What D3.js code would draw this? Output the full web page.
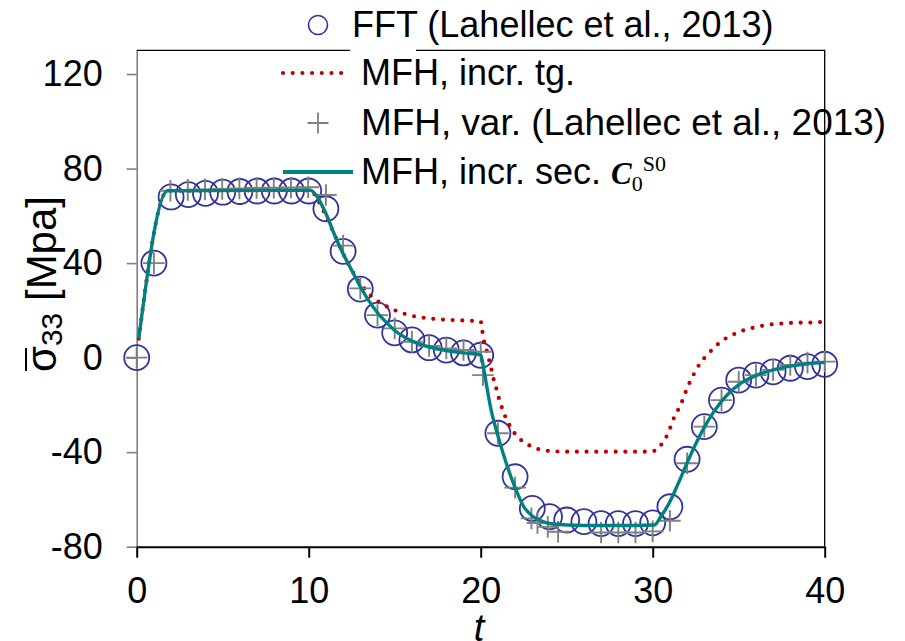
<!DOCTYPE html>
<html>
<head>
<meta charset="utf-8">
<script src="https://cdn.jsdelivr.net/npm/d3@7"></script>
<style>
  body { margin: 0; background: #fff; }
  svg { display: block; }
  text { font-family: "Liberation Sans", Arial, sans-serif; }
</style>
</head>
<body>
<div id="chart"></div>
<script>
const width = 905, height = 641;

const xTicks = [0, 10, 20, 30, 40];
const yTicks = [-80, -40, 0, 40, 80, 120];

// FFT (Lahellec et al., 2013) - circles
const fftT = [0,1,2,3,4,5,6,7,8,9,10,11,12,13,14,15,16,17,18,19,20,
              21,22,23,24,25,26,27,28,29,30,31,32,33,34,35,36,37,38,39,40];
const fftV = [0,40,68,69,69.5,70,70.3,70.5,70.5,70.5,70.5,63,45,29,18,10.5,7.5,4.2,3.2,2,1,
              -32,-50.4,-63.8,-67.3,-68.7,-69.4,-70.2,-70.2,-70.2,-69.9,-63.1,-43,-29.2,-18,-9.5,-7.4,-6,-4.5,-3.8,-2.8];

// MFH, incr. tg. - red dotted
const tgT = [0.12,1.8,10.1,10.5,11,11.5,12,12.5,13,13.5,14,14.5,15,15.5,16,17,18,19,20,
             20.1,20.2,20.37,20.5,20.63,20.76,20.92,21.07,21.25,21.45,21.7,22,22.4,22.9,23.4,24,25,
             29.7,30.25,30.6,30.9,31.1,31.3,31.6,31.8,32,32.25,32.5,32.8,33.2,33.6,34,34.5,35.06,
             35.6,36.2,36.7,37.3,37.9,38.4,39,39.6,40];
const tgV = [8,70.6,70.8,67,60,52,44,37,31.5,27,24,21.8,20.1,18.7,17.7,16.6,16,15.7,15.3,
             11,6.7,2.5,-1.3,-5.2,-9.4,-13.4,-17.5,-21.5,-25.3,-28.9,-32.3,-35.2,-37.4,-38.8,-39.5,-39.8,
             -39.8,-39.1,-35.6,-32,-28.1,-24.3,-20.5,-16.7,-13,-9,-5.5,-2,1.4,4.4,7,9.1,11,
             12.2,13.2,13.9,14.3,14.6,14.8,14.8,15,15.1];

// MFH, var. (Lahellec et al., 2013) - gray crosses
const varT = [0,1,1.96,2.97,3.97,4.97,5.97,6.97,7.97,8.97,9.97,11,12,13,14,15,16,17,18,19,20,
              20.13,21,22,22.95,23.3,23.9,24.5,27,28,29,30,31,32,33,34,35,36,37,38,39,40];
const varV = [0,40,70.6,71,71.2,71.4,71.6,71.8,71.9,72,72.1,68.8,47.4,29.3,18,12.4,6.7,4.9,3.9,3.2,2.5,
              -7.4,-32,-55,-68,-70,-71.6,-73.7,-74,-74,-74,-73.5,-69,-44.7,-29.2,-18,-10.2,-7.4,-5.2,-3.1,-2.1,-1.7];

// MFH, incr. sec. C0S0 - teal line
const secT = [0.12,1.8,10.1,10.5,11,11.5,12,12.5,13,13.5,14,14.5,15,15.5,16,17,18,19,20,
              20.05,20.3,20.6,21,21.5,22,22.5,23,23.5,24,25,26,29,30.1,30.5,31,31.5,32,32.5,
              33,33.5,34,34.5,35,35.5,36,37,38,39,40];
const secV = [8,70.6,70.8,68,61,52,44,37,30,24,19,15,11.5,9,7,4.5,3,2,1.2,
              0,-10,-22,-33,-45,-55,-63,-67,-69,-70.2,-70.8,-71,-71,-70.8,-67,-61,-53,-44.5,-36.5,
              -29.5,-23.5,-18.5,-14.5,-11.5,-9.3,-7.6,-5.2,-3.6,-2.6,-2];

const fft = fftT.map((t, i) => ({t, v: fftV[i]}));
const tg = tgT.map((t, i) => ({t, v: tgV[i]}));
const vr = varT.map((t, i) => ({t, v: varV[i]}));
const sec = secT.map((t, i) => ({t, v: secV[i]}));

const blue = "#333399", red = "#c00000", gray = "#808080", teal = "#008080";

const svg = d3.select("#chart").append("svg")
    .attr("width", width)
    .attr("height", height);

const x = d3.scaleLinear().domain([0, 40]).range([136.7, 824.7]);
const y = d3.scaleLinear().domain([-80, 130]).range([546.7, 50.4]);

// frame top + right
svg.append("path")
    .attr("d", `M${x(0)},${y(130)}H${x(40)}V${y(-80)}`)
    .attr("fill", "none")
    .attr("stroke", "#000")
    .attr("stroke-width", 1.3);

// y axis (gray)
const yAxis = svg.append("g")
    .attr("transform", `translate(${x(0)},0)`)
    .call(d3.axisLeft(y).tickValues(yTicks).tickFormat(d => String(d))
        .tickSize(10).tickSizeOuter(0).tickPadding(24));
yAxis.select(".domain").attr("stroke", gray).attr("stroke-width", 1.6);
yAxis.selectAll(".tick line").attr("stroke", gray).attr("stroke-width", 1.6);
yAxis.selectAll(".tick text")
    .attr("font-size", 36)
    .attr("font-family", "Liberation Sans, Arial, sans-serif")
    .attr("fill", "#000");

// x axis (black)
const xAxis = svg.append("g")
    .attr("transform", `translate(0,${y(-80)})`)
    .call(d3.axisBottom(x).tickValues(xTicks).tickFormat(d => String(d))
        .tickSize(11).tickSizeOuter(0).tickPadding(20));
xAxis.select(".domain").attr("stroke", "#000").attr("stroke-width", 2);
xAxis.selectAll(".tick line").attr("stroke", "#000").attr("stroke-width", 2);
xAxis.selectAll(".tick text")
    .attr("font-size", 36)
    .attr("font-family", "Liberation Sans, Arial, sans-serif")
    .attr("fill", "#000");

// series
const line = d3.line().x(d => x(d.t)).y(d => y(d.v)).curve(d3.curveMonotoneX);

svg.append("g").selectAll("circle")
    .data(fft)
    .join("circle")
    .attr("cx", d => x(d.t))
    .attr("cy", d => y(d.v))
    .attr("r", 12.5)
    .attr("fill", "none")
    .attr("stroke", blue)
    .attr("stroke-width", 1.8);

svg.append("path")
    .datum(tg)
    .attr("d", line)
    .attr("fill", "none")
    .attr("stroke", red)
    .attr("stroke-width", 4.2)
    .attr("stroke-linecap", "round")
    .attr("stroke-dasharray", "0 9.7");

const plus = (s) => `M${-s},0H${s}M0,${-s}V${s}`;

svg.append("g").selectAll("path")
    .data(vr)
    .join("path")
    .attr("transform", d => `translate(${x(d.t)},${y(d.v)})`)
    .attr("d", plus(10.8))
    .attr("fill", "none")
    .attr("stroke", gray)
    .attr("stroke-width", 1.9);

svg.append("path")
    .datum(sec)
    .attr("d", line)
    .attr("fill", "none")
    .attr("stroke", teal)
    .attr("stroke-width", 3.4);

// legend
const lg = svg.append("g");
lg.append("rect").attr("x", 350).attr("y", 42).attr("width", 66).attr("height", 14).attr("fill", "#fff");
lg.append("circle").attr("cx", 318).attr("cy", 25).attr("r", 9.5)
    .attr("fill", "none").attr("stroke", blue).attr("stroke-width", 1.6);
lg.append("text").attr("x", 352).attr("y", 37).attr("font-size", 36)
    .text("FFT (Lahellec et al., 2013)");

lg.append("line").attr("x1", 283).attr("x2", 348).attr("y1", 73).attr("y2", 73)
    .attr("stroke", red).attr("stroke-width", 4.2)
    .attr("stroke-linecap", "round").attr("stroke-dasharray", "0 9.7");
lg.append("text").attr("x", 361).attr("y", 85).attr("font-size", 36)
    .text("MFH, incr. tg.");

lg.append("path").attr("transform", "translate(318,123)").attr("d", plus(10.5))
    .attr("stroke", gray).attr("stroke-width", 1.8);
lg.append("text").attr("x", 361).attr("y", 135).attr("font-size", 36)
    .attr("textLength", 525).attr("lengthAdjust", "spacingAndGlyphs")
    .text("MFH, var. (Lahellec et al., 2013)");

lg.append("line").attr("x1", 283).attr("x2", 353).attr("y1", 172).attr("y2", 172)
    .attr("stroke", teal).attr("stroke-width", 3.8);
const t4 = lg.append("text").attr("x", 361).attr("y", 184).attr("font-size", 36);
t4.append("tspan").text("MFH, incr. sec. ");
t4.append("tspan").attr("font-family", "Liberation Serif, Times New Roman, serif")
    .attr("font-weight", "bold").attr("font-style", "italic").attr("font-size", 31).text("C");
t4.append("tspan").attr("font-family", "Liberation Serif, Times New Roman, serif")
    .attr("font-size", 22).attr("dy", 7).text("0");
t4.append("tspan").attr("font-family", "Liberation Serif, Times New Roman, serif")
    .attr("font-size", 22).attr("dy", -20).text("S0");

// y axis title
const yt = svg.append("g").attr("transform", "translate(56,372) rotate(-90)");
const ytxt = yt.append("text").attr("x", 0).attr("y", 0).attr("font-size", 42);
ytxt.append("tspan").text("σ");
ytxt.append("tspan").attr("font-size", 30).attr("dy", 6).text("33");
ytxt.append("tspan").attr("dy", -6).text(" [Mpa]");
yt.append("line").attr("x1", 1).attr("x2", 24).attr("y1", -30).attr("y2", -30)
    .attr("stroke", "#000").attr("stroke-width", 2);

// x axis title
svg.append("text")
    .attr("x", 479).attr("y", 641)
    .attr("text-anchor", "middle")
    .attr("font-size", 38)
    .attr("font-style", "italic")
    .text("t");
</script>
</body>
</html>
